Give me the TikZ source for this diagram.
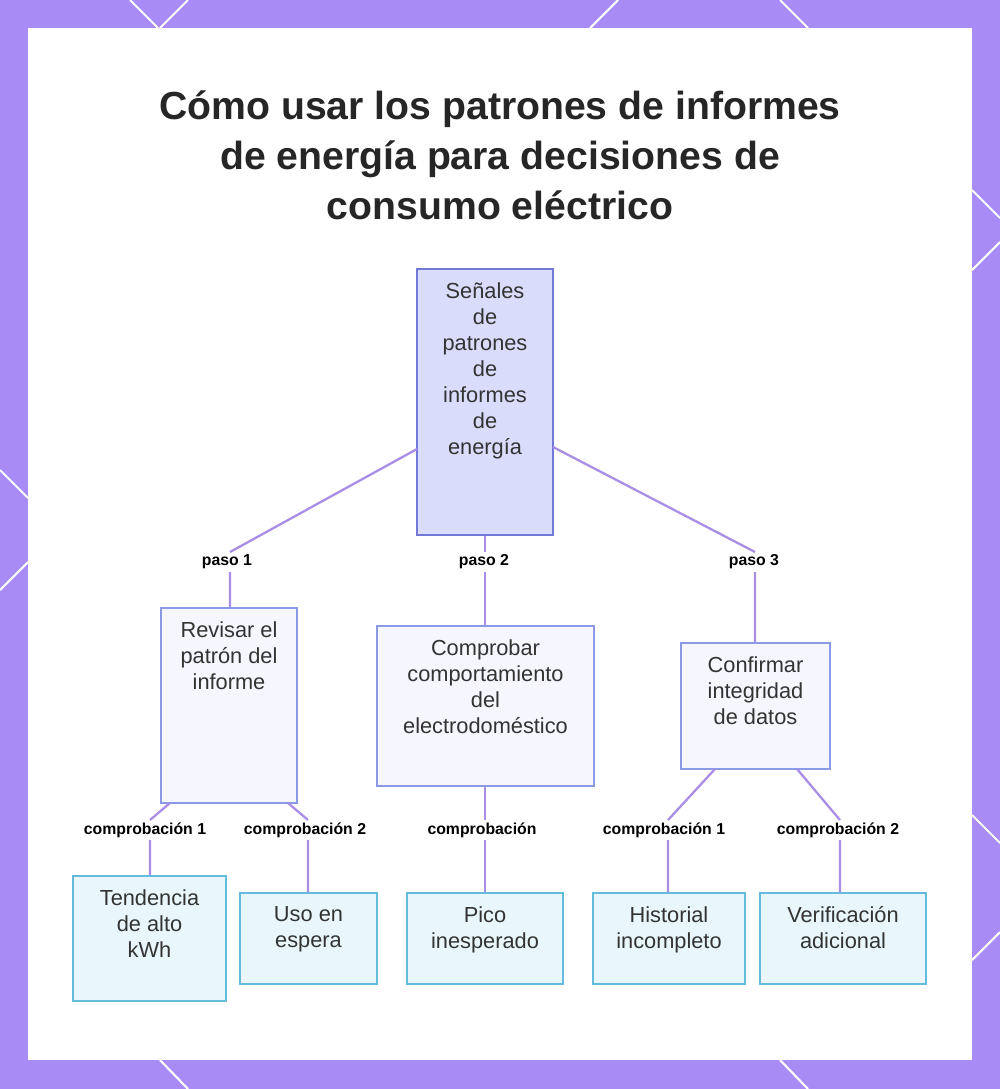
\documentclass[tikz,border=0pt]{standalone}
\usepackage{fontspec}
\setmainfont{Liberation Sans}
\usetikzlibrary{positioning}
\definecolor{frame}{HTML}{A98BF5}
\definecolor{link}{HTML}{A98EE6}
\definecolor{rootfill}{HTML}{DADCFC}
\definecolor{rootline}{HTML}{7377D6}
\definecolor{stepfill}{HTML}{F5F6FE}
\definecolor{stepline}{HTML}{8C9AE6}
\definecolor{leaffill}{HTML}{E9F7FC}
\definecolor{leafline}{HTML}{63BCDB}
\tikzset{
  box/.style={draw, line width=1.2pt, inner sep=0pt},
  rootbox/.style={box, fill=rootfill, draw=rootline},
  stepbox/.style={box, fill=stepfill, draw=stepline},
  leafbox/.style={box, fill=leaffill, draw=leafline},
  txt/.style={align=center, font=\fontsize{12.4}{14.8}\selectfont, text=black!80},
  tag/.style={font=\bfseries\fontsize{9}{11}\selectfont, inner sep=2pt},
  conn/.style={draw=link, line width=1.3pt}
}
\begin{document}
\begin{tikzpicture}[x=0.02cm, y=-0.02cm]
		\useasboundingbox (0,0) rectangle (1000,1089);
		% FRAME
		\fill[frame] (0,0) rectangle (1000,1089);
		\fill[white] (28,28) rectangle (972,1060);
		\foreach \a/\b/\c/\d in {130/0/158/28, 160/28/188/0, 780/0/808/28, 590/28/618/0, 0/470/28/498, 0/590/28/562, 972/190/1000/218, 972/270/1000/242, 972/815/1000/843, 972/960/1000/932, 160/1060/188/1089, 780/1060/808/1089}
			\draw[white, line width=1.2pt] (\a,\b) -- (\c,\d);

		% TITLE
		\node[align=center, font=\bfseries\fontsize{22.3}{28.5}\selectfont, text=black!85] (title) at (500,155)
			{Cómo usar los patrones de informes\\de energía para decisiones de\\consumo eléctrico};

		% ROOT
		\node[rootbox, minimum width=136*0.02cm, minimum height=266*0.02cm] (root) at (485,402) {};
		\node[txt, below=5pt of root.north] {Señales\\de\\patrones\\de\\informes\\de\\energía};

		% STEPS
		\node[stepbox, minimum width=136*0.02cm, minimum height=195*0.02cm] (revisar) at (229,705.5) {};
		\node[txt, below=5pt of revisar.north] {Revisar el\\patrón del\\informe};
		\node[stepbox, minimum width=217*0.02cm, minimum height=160*0.02cm] (comprobar) at (485.5,706) {};
		\node[txt, below=5pt of comprobar.north] {Comprobar\\comportamiento\\del\\electrodoméstico};
		\node[stepbox, minimum width=149*0.02cm, minimum height=126*0.02cm] (confirmar) at (755.5,706) {};
		\node[txt, below=5pt of confirmar.north] {Confirmar\\integridad\\de datos};

		% LEAVES
		\node[leafbox, minimum width=153*0.02cm, minimum height=125*0.02cm] (tendencia) at (149.5,938.5) {};
		\node[txt, below=5pt of tendencia.north] {Tendencia\\de alto\\kWh};
		\node[leafbox, minimum width=137*0.02cm, minimum height=91*0.02cm] (espera) at (308.5,938.5) {};
		\node[txt, below=5pt of espera.north] {Uso en\\espera};
		\node[leafbox, minimum width=156*0.02cm, minimum height=91*0.02cm] (pico) at (485,938.5) {};
		\node[txt, below=5pt of pico.north] {Pico\\inesperado};
		\node[leafbox, minimum width=152*0.02cm, minimum height=91*0.02cm] (historial) at (669,938.5) {};
		\node[txt, below=5pt of historial.north] {Historial\\incompleto};
		\node[leafbox, minimum width=166*0.02cm, minimum height=91*0.02cm] (verif) at (843,938.5) {};
		\node[txt, below=5pt of verif.north] {Verificación\\adicional};

		% LABELS
		\node[tag] (paso1) at (227,562) {paso 1};
		\node[tag] (paso2) at (484,562) {paso 2};
		\node[tag] (paso3) at (754,562) {paso 3};
		\node[tag] (comp1) at (145,830) {comprobación 1};
		\node[tag] (comp2) at (305,830) {comprobación 2};
		\node[tag] (comp) at (482,830) {comprobación};
		\node[tag] (comp3) at (664,830) {comprobación 1};
		\node[tag] (comp4) at (838,830) {comprobación 2};

		% CONNECTORS
		\coordinate (r1) at (417,449);
		\coordinate (r3) at (553,447);
		\coordinate (a1) at (170,803);
		\coordinate (a2) at (288,803);
		\coordinate (c1) at (715,769);
		\coordinate (c2) at (797,769);
		\draw[conn] (r1) -- (230,552) (230,572) -- (revisar.north -| 230,0);
		\draw[conn] (root.south) -- (485,552) (485,572) -- (comprobar.north -| 485,0);
		\draw[conn] (r3) -- (755,552) (755,572) -- (confirmar.north -| 755,0);
		\draw[conn] (a1) -- (150,820) (150,840) -- (tendencia.north -| 150,0);
		\draw[conn] (a2) -- (308,820) (308,840) -- (espera.north -| 308,0);
		\draw[conn] (comprobar.south -| 485,0) -- (485,820) (485,840) -- (pico.north -| 485,0);
		\draw[conn] (c1) -- (668,820) (668,840) -- (historial.north -| 668,0);
		\draw[conn] (c2) -- (840,820) (840,840) -- (verif.north -| 840,0);
	\end{tikzpicture}
\end{document}
